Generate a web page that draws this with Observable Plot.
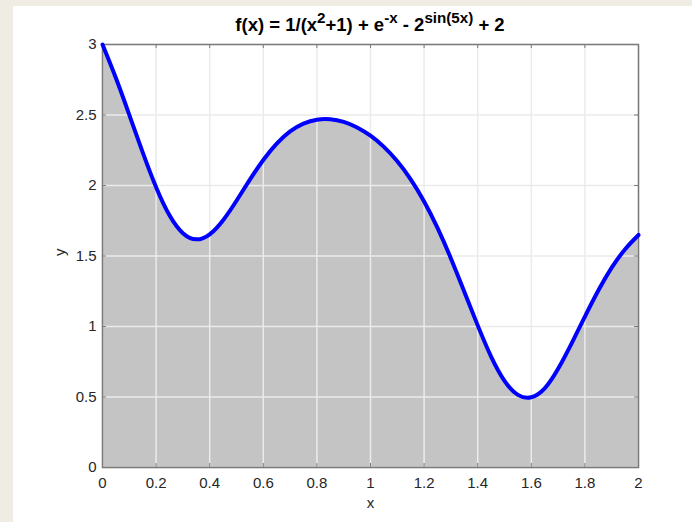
<!DOCTYPE html>
<html>
<head>
<meta charset="utf-8">
<script src="https://cdn.jsdelivr.net/npm/d3@7"></script>
<script src="https://cdn.jsdelivr.net/npm/@observablehq/plot@0.6"></script>
<style>
  html, body { margin: 0; padding: 0; }
  body { background: #efece3; width: 692px; height: 522px; overflow: hidden; position: relative; }
  #panel { position: absolute; left: 13px; top: 6px; width: 679px; height: 516px; background: #ffffff; }
  #title {
    position: absolute; left: 89px; width: 536px; top: 7.5px;
    text-align: center; font: bold 18.5px "Liberation Sans", Arial, sans-serif;
    line-height: 22px; color: #000; white-space: nowrap;
  }
  #title sup { font-size: 0.82em; line-height: 0; vertical-align: 0.5em; }
  #chart svg { position: absolute; left: 0; top: 0; }
</style>
</head>
<body>
<div id="panel">
  <div id="chart"></div>
  <div id="title">f(x) = 1/(x<sup>2</sup>+1) + e<sup>-x</sup> - 2<sup>sin(5x)</sup> + 2</div>
</div>
<script>
// Sampled curve: x positions and the corresponding f(x) values
const xs = [0, 0.05, 0.1, 0.15, 0.2, 0.25, 0.3, 0.35, 0.4, 0.45, 0.5, 0.55, 0.6, 0.65, 0.7, 0.75, 0.8, 0.85, 0.9, 0.95,
            1.0, 1.05, 1.1, 1.15, 1.2, 1.25, 1.3, 1.35, 1.4, 1.45, 1.5, 1.55, 1.6, 1.65, 1.7, 1.75, 1.8, 1.85, 1.9, 1.95, 2.0];
const ys = [3.000, 2.762, 2.501, 2.235, 1.988, 1.789, 1.662, 1.618, 1.654, 1.754, 1.892, 2.042, 2.181, 2.297, 2.384, 2.439,
            2.467, 2.470, 2.451, 2.412, 2.353, 2.274, 2.172, 2.044, 1.887, 1.699, 1.483, 1.247, 1.008, 0.787, 0.615,
            0.515, 0.498, 0.561, 0.700, 0.879, 1.070, 1.255, 1.417, 1.548, 1.649];

// Axis tick values
const xTicks = [0, 0.2, 0.4, 0.6, 0.8, 1, 1.2, 1.4, 1.6, 1.8, 2];
const yTicks = [0, 0.5, 1, 1.5, 2, 2.5, 3];

const points = xs.map((x, i) => ({x, y: ys[i]}));

const W = 679, H = 516;
const mL = 89, mR = 54, mT = 38, mB = 55;
const innerW = W - mL - mR, innerH = H - mT - mB;
const tickLen = 4;
const axisColor = "#7a7a7a";

const chart = Plot.plot({
  width: W,
  height: H,
  marginLeft: mL,
  marginRight: mR,
  marginTop: mT,
  marginBottom: mB,
  style: {
    fontFamily: "'Liberation Sans', Arial, sans-serif",
    fontSize: "15px",
    color: "#262626",
    background: "transparent",
    overflow: "visible"
  },
  x: {domain: [0, 2], ticks: xTicks, tickSize: 0, tickPadding: 10, tickFormat: d => String(d), label: null},
  y: {domain: [0, 3], ticks: yTicks, tickSize: 0, tickPadding: 6, tickFormat: d => String(d), label: null},
  marks: [
    Plot.areaY(points, {x: "x", y: "y", fill: "#c4c4c4", curve: "natural"}),
    // grid
    Plot.ruleX(xTicks, {x: d => d, stroke: "#ebebeb", strokeWidth: 1.5}),
    Plot.ruleY(yTicks, {y: d => d, stroke: "#ebebeb", strokeWidth: 1.5}),
    Plot.frame({stroke: axisColor, strokeWidth: 1.5}),
    // inward ticks on all four sides
    Plot.tickX(xTicks, {x: d => d, insetTop: innerH - tickLen, stroke: axisColor}),
    Plot.tickX(xTicks, {x: d => d, insetBottom: innerH - tickLen, stroke: axisColor}),
    Plot.tickY(yTicks, {y: d => d, insetRight: innerW - tickLen, stroke: axisColor}),
    Plot.tickY(yTicks, {y: d => d, insetLeft: innerW - tickLen, stroke: axisColor}),
    Plot.line(points, {x: "x", y: "y", stroke: "#0000ff", strokeWidth: 4, curve: "natural"}),
    // axis titles
    Plot.text(["x"], {text: d => d, frameAnchor: "bottom", dy: 40, fill: "#262626"}),
    Plot.text(["y"], {text: d => d, frameAnchor: "left", dx: -42, rotate: -90, fill: "#262626"})
  ]
});

document.getElementById("chart").appendChild(chart);
</script>
</body>
</html>
